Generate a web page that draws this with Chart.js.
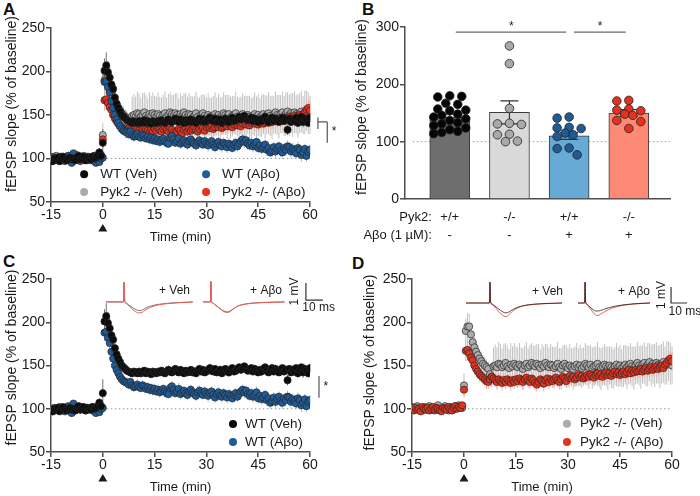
<!DOCTYPE html>
<html>
<head>
<meta charset="utf-8">
<script src="https://cdn.jsdelivr.net/npm/chart.js@4.4.1/dist/chart.umd.min.js"></script>
<style>
  body { margin: 0; background: #fff; width: 700px; height: 496px; position: relative; overflow: hidden; }
  canvas { position: absolute; }
  .lbl { position: absolute; font: bold 17px 'Liberation Sans', Arial, sans-serif; line-height: 1; color: #111; }
</style>
</head>
<body>
<div class="lbl" style="left:3px;top:1px">A</div>
<div class="lbl" style="left:362px;top:1px">B</div>
<div class="lbl" style="left:3px;top:253px">C</div>
<div class="lbl" style="left:352px;top:255px">D</div>
<canvas id="cA" width="350" height="246" style="left:0;top:0"></canvas>
<canvas id="cB" width="350" height="246" style="left:350px;top:0"></canvas>
<canvas id="cC" width="350" height="246" style="left:0;top:250px"></canvas>
<canvas id="cD" width="350" height="246" style="left:350px;top:250px"></canvas>
<script>
// ---- time course data, one point every 30 s from -15 to 60 min ----
const time = Array.from({length: 151}, (_, i) => -15 + i * 0.5);
const xTicks = [-15, 0, 15, 30, 45, 60];
const yTicks = [50, 100, 150, 200, 250];

const wtVeh = [98,97,100,99,101,97,100,102,99,98,100,101,99,100,98,101,103,99,100,102,98,101,100,99,102,100,101,103,107,103,
  118,
  201,207,199,193,185,180,170,163,158,154,
  150,148,146,144,143,142,141,143,142,141,
  143,141,142,144,141,143,142,140,143,142,
  141,143,142,144,142,141,143,145,143,142,
  144,146,143,142,145,143,141,144,142,143,
  145,142,143,141,144,146,143,145,142,143,
  145,147,144,143,146,142,143,145,141,143,
  146,144,142,145,147,143,144,146,148,145,
  147,149,146,144,145,147,143,146,144,142,
  145,143,146,148,144,142,145,147,143,146,
  144,142,145,147,143,145,133,146,142,145,
  143,147,141,145,148,142,146,144,141,147];
const wtVehSem = [3,2,3,2,3,2,3,3,2,3,2,3,2,3,3,2,3,2,3,2,3,3,2,3,2,3,3,4,5,4,
  16,
  14,15,13,12,10,9,8,7,6,6,
  5,5,5,4,4,4,4,4,4,4,
  4,4,3,4,4,3,4,4,3,4,
  4,3,4,4,3,4,4,5,4,4,
  4,4,3,4,4,5,4,4,3,4,
  4,4,5,4,4,3,4,4,4,5,
  4,5,4,4,3,4,4,5,4,4,
  4,4,5,4,4,4,5,4,4,4,
  5,4,4,4,5,4,4,5,4,4,
  4,5,4,4,5,4,4,5,4,5,
  5,4,5,4,4,5,6,5,4,5,
  5,4,5,5,4,6,5,4,5,5];

const wtAbo = [99,97,101,100,98,102,99,100,97,101,103,99,95,106,98,101,100,99,102,100,98,101,99,100,102,97,95,99,96,100,
  101,
  188,189,182,176,166,158,150,145,141,137,
  134,132,131,130,128,131,127,125,126,128,
  125,124,127,126,123,125,122,124,121,123,
  120,122,119,121,123,120,118,117,124,126,
  122,118,120,123,117,119,121,118,116,120,
  122,119,117,115,119,121,118,116,120,117,
  115,118,120,116,113,117,119,115,114,118,
  116,113,117,115,112,116,118,114,117,120,
  122,119,121,117,115,118,114,116,119,112,
  115,111,113,116,110,112,107,109,113,108,
  111,114,109,107,112,110,114,113,108,111,
  109,106,112,110,104,107,111,103,108,110];
const wtAboSem = [3,3,2,3,3,2,3,3,4,3,2,3,4,3,2,3,3,2,3,3,2,3,3,2,3,4,3,3,4,3,
  5,
  10,11,10,9,9,8,8,7,7,6,
  6,6,5,6,6,5,6,6,5,6,
  6,5,6,6,5,6,6,5,6,6,
  5,6,6,5,6,7,6,5,6,6,
  6,5,6,7,6,6,5,6,6,7,
  6,6,5,6,7,6,6,5,6,6,
  7,6,6,5,6,7,6,6,7,6,
  6,7,6,6,5,7,6,6,7,6,
  6,7,6,7,6,6,7,6,7,6,
  7,6,7,6,7,6,7,7,6,7,
  7,6,7,7,6,7,7,6,7,7,
  7,6,7,7,8,7,6,7,7,6];

const pykAbo = [100,98,101,99,100,97,102,100,99,101,98,100,102,99,101,100,98,97,101,100,99,102,100,98,101,103,100,102,101,104,
  122,
  167,168,164,159,156,150,146,143,140,138,
  136,134,132,131,134,137,135,133,131,134,
  132,130,133,131,134,132,130,133,131,134,
  132,135,133,131,134,136,133,131,135,133,
  130,128,131,134,132,129,133,135,131,134,
  132,134,136,133,131,134,137,135,132,136,
  138,135,137,134,136,139,136,138,135,137,
  139,137,140,138,136,139,141,138,140,137,
  140,142,139,141,138,141,143,140,142,139,
  141,143,140,142,145,141,144,142,145,143,
  144,146,143,145,147,144,146,148,145,147,
  149,146,148,150,147,151,153,156,158,155];
const pykAboSem = [3,2,3,3,2,3,2,3,3,2,3,3,2,3,3,2,3,2,3,3,2,3,3,2,3,3,4,3,3,4,
  8,
  12,12,11,11,10,10,9,9,9,8,
  8,8,9,8,8,9,8,8,9,8,
  8,9,8,8,9,8,9,8,8,9,
  8,9,8,9,8,8,9,8,9,8,
  9,8,8,9,8,9,8,8,9,8,
  8,9,8,8,9,8,8,9,8,8,
  9,8,8,9,8,8,9,8,8,9,
  8,8,9,8,8,9,8,8,9,8,
  8,9,8,8,9,8,8,9,8,8,
  8,8,9,8,8,9,8,8,8,9,
  8,8,9,8,8,8,9,8,8,8,
  8,9,8,8,8,9,8,8,9,10];

const pykVeh = [102,101,100,103,99,101,98,102,100,99,103,101,100,98,102,104,100,99,101,103,100,98,102,101,99,103,101,104,102,101,
  127,
  190,195,195,186,177,171,166,162,158,155,
  152,150,148,146,140,137,149,150,148,152,
  151,148,150,153,149,147,151,149,152,150,
  148,151,149,146,150,152,148,150,153,151,
  149,152,150,147,151,149,153,150,148,151,
  150,147,149,152,148,146,150,152,149,147,
  150,148,146,149,151,148,150,147,149,152,
  150,148,151,147,149,150,152,148,146,149,
  151,149,147,150,148,146,149,151,148,150,
  147,149,151,148,150,152,149,147,150,153,
  150,148,151,153,149,151,154,150,152,150,
  153,151,149,152,154,150,153,155,152,150];
const pykVehSem = [3,3,4,3,3,4,3,3,4,3,3,4,3,3,4,3,3,4,3,3,4,3,3,4,3,4,4,3,4,4,
  14,
  14,16,15,14,13,12,12,11,10,10,
  10,10,9,9,10,12,22,24,23,25,
  24,22,25,23,24,22,25,23,24,22,
  23,25,22,24,23,25,22,24,23,22,
  24,23,25,22,24,23,22,25,23,24,
  22,24,23,25,22,24,23,22,24,23,
  25,22,24,23,25,22,24,23,22,24,
  23,25,22,24,23,22,25,23,24,22,
  24,23,25,22,24,23,22,25,23,24,
  22,24,23,25,22,24,23,25,22,24,
  23,25,22,24,23,25,22,24,23,25,
  24,22,25,23,24,22,25,23,24,22];

// ---- sample fEPSP traces (ms, mV): base = before, post = 60 min ----
const cVehT = [0,10.2,10.6,11.0,11.6,13,15,17,19,20.5,22,24,27,31,36,42,51];
const cVehBase = [0,0,1.15,0.05,-0.05,-0.15,-0.3,-0.42,-0.5,-0.5,-0.44,-0.33,-0.22,-0.14,-0.08,-0.04,0];
const cVehPost = [0,0,1.15,0.05,-0.06,-0.18,-0.38,-0.55,-0.64,-0.64,-0.56,-0.42,-0.28,-0.17,-0.1,-0.05,0];
const cAboT = [0,4.4,4.7,5.0,5.6,7,9,11,13,14.7,16.5,18.5,21,25,30,38,48];
const cAboBase = [0,0,1.2,0.05,-0.05,-0.15,-0.3,-0.45,-0.56,-0.58,-0.5,-0.36,-0.22,-0.12,-0.06,-0.02,0];
const cAboPost = [0,0,1.2,0.05,-0.05,-0.16,-0.32,-0.48,-0.6,-0.62,-0.53,-0.38,-0.23,-0.13,-0.07,-0.03,0];
const dVehT = [0,14.6,15,15.4,16,17.5,19.5,21.5,23.5,25,27,29,32,36,42,50,60];
const dVehBase = [0,0,1.3,0.05,-0.05,-0.15,-0.3,-0.45,-0.58,-0.62,-0.55,-0.42,-0.28,-0.16,-0.08,-0.03,0];
const dVehPost = [0,0,1.3,0.05,-0.06,-0.2,-0.42,-0.65,-0.8,-0.85,-0.72,-0.52,-0.32,-0.18,-0.09,-0.04,0];
const dAboT = [0,4.1,4.4,4.8,5.3,6.5,8,9.5,11,12.3,14,16,19,23,28,35,45];
const dAboBase = [0,0,1.3,0.05,-0.05,-0.15,-0.3,-0.42,-0.5,-0.5,-0.47,-0.4,-0.3,-0.2,-0.12,-0.05,0];
const dAboPost = [0,0,1.3,0.05,-0.06,-0.2,-0.4,-0.6,-0.75,-0.78,-0.7,-0.58,-0.42,-0.27,-0.15,-0.06,0];

// ---- panel B: LTP magnitude per slice ----
const bPyk2 = ['+/+', '-/-', '+/+', '-/-'];
const bAbo = ['-', '-', '+', '+'];
const bTicks = [0, 100, 200, 300];
const bMean = [143, 151, 110, 150];
const bSem = [5, 20, 6, 6];
const bWtVeh = [180,178,179,167,165,157,155,154,148,146,143,140,137,133,131,128,124,121,118,116,114];
const bPykVeh = [267,236,158,132,130,131,113,112,101,100];
const bWtAbo = [143,141,125,124,123,115,112,109,89,88,77];
const bPykAbo = [172,171,157,155,154,148,146,137,135,123];

const FONT = "'Liberation Sans', Arial, Helvetica, sans-serif";
const AX = '#4d4d4d';
const YTITLE = 'fEPSP slope (% of baseline)';
Chart.defaults.font.family = FONT;
Chart.defaults.color = '#1a1a1a';

const S = {
  wtVeh: {label: 'WT (Veh)', data: wtVeh, sem: wtVehSem, fill: '#0b0b0b', err: '#707070'},
  wtAbo: {label: 'WT (Aβo)', data: wtAbo, sem: wtAboSem, fill: '#1f5b97', err: '#92c2ea'},
  pykAbo: {label: 'Pyk2 -/- (Aβo)', data: pykAbo, sem: pykAboSem, fill: '#e4321e', err: '#f4aaa0'},
  pykVeh: {label: 'Pyk2 -/- (Veh)', data: pykVeh, sem: pykVehSem, fill: '#ababab', err: '#c2c2c2'}
};

function seriesDs(s) {
  return {
    type: 'scatter', label: s.label,
    data: s.data.map((v, i) => ({x: time[i], y: v})),
    sem: s.sem, errColor: s.err,
    pointRadius: 3.6, pointBackgroundColor: s.fill,
    pointBorderColor: '#262626', pointBorderWidth: 0.7,
    xAxisID: 'x', yAxisID: 'y'
  };
}

function traceDs(t, v, off, color, w) {
  return {
    type: 'line', showLine: true, data: t.map((ms, i) => ({x: ms + off, y: v[i]})),
    borderColor: color, borderWidth: w, pointRadius: 0,
    cubicInterpolationMode: 'monotone', xAxisID: 'tx', yAxisID: 'ty'
  };
}

// rotated y title, drawn by hand so it can sit a little off-centre like the original
function yTitle(shift) {
  return {
    id: 'ytitle',
    afterDraw(chart) {
      const {ctx} = chart, y = chart.scales.y;
      ctx.save();
      ctx.font = '14px ' + FONT;
      ctx.fillStyle = '#1a1a1a';
      ctx.textAlign = 'center';
      ctx.textBaseline = 'middle';
      ctx.translate(y.left + 12.4, (y.top + y.bottom) / 2 + shift);
      ctx.rotate(-Math.PI / 2);
      ctx.fillText(YTITLE, 0, 0);
      ctx.restore();
    }
  };
}

// vertical SEM whiskers under the points
const errPlugin = {
  id: 'errbars',
  beforeDatasetsDraw(chart) {
    const ctx = chart.ctx;
    const metas = chart.getSortedVisibleDatasetMetas();
    for (let i = metas.length - 1; i >= 0; i--) {
      const ds = chart.data.datasets[metas[i].index];
      if (!ds.sem) continue;
      const xs = chart.scales[metas[i].xAxisID], ys = chart.scales[metas[i].yAxisID];
      ctx.save();
      ctx.strokeStyle = ds.errColor;
      ctx.lineWidth = 1;
      ctx.beginPath();
      ds.data.forEach((p, j) => {
        const px = xs.getPixelForValue(p.x);
        ctx.moveTo(px, ys.getPixelForValue(p.y - ds.sem[j]));
        ctx.lineTo(px, ys.getPixelForValue(p.y + ds.sem[j]));
      });
      ctx.stroke();
      ctx.restore();
    }
  }
};

function timeAnno(o) {
  return {
    id: 'anno',
    beforeDatasetsDraw(chart) {
      const {ctx, scales: {x, y}} = chart;
      ctx.save();
      ctx.strokeStyle = '#999';
      ctx.lineWidth = 1;
      ctx.setLineDash([1.5, 2.5]);
      ctx.beginPath();
      ctx.moveTo(x.getPixelForValue(0), y.getPixelForValue(100));
      ctx.lineTo(x.getPixelForValue(60), y.getPixelForValue(100));
      ctx.stroke();
      ctx.restore();
    },
    afterDraw(chart) {
      const {ctx, scales: {x, y}} = chart;
      ctx.save();
      // tetanus marker
      const ax = x.getPixelForValue(0), ay = x.top + 26;
      ctx.fillStyle = '#1a1a1a';
      ctx.beginPath();
      ctx.moveTo(ax, ay - 4); ctx.lineTo(ax + 4.5, ay + 3.5); ctx.lineTo(ax - 4.5, ay + 3.5);
      ctx.closePath(); ctx.fill();
      // legend
      ctx.font = '13.5px ' + FONT;
      ctx.textBaseline = 'middle';
      ctx.textAlign = 'left';
      o.legend.forEach(([s, lx, ly]) => {
        const px = x.getPixelForValue(lx), py = y.getPixelForValue(ly);
        ctx.fillStyle = s.fill;
        ctx.beginPath(); ctx.arc(px, py, 4, 0, Math.PI * 2); ctx.fill();
        ctx.fillStyle = '#1a1a1a';
        ctx.fillText(s.label, px + o.gap, py);
      });
      // significance bracket
      ctx.strokeStyle = '#555';
      ctx.lineWidth = 1.2;
      ctx.beginPath();
      o.sig.lines.forEach(([x1, y1, x2, y2]) => {
        ctx.moveTo(x.getPixelForValue(x1), y.getPixelForValue(y1));
        ctx.lineTo(x.getPixelForValue(x2), y.getPixelForValue(y2));
      });
      ctx.stroke();
      if (o.sig.star) {
        ctx.font = '12px ' + FONT;
        ctx.fillStyle = '#1a1a1a';
        ctx.textAlign = 'center';
        ctx.fillText('*', x.getPixelForValue(o.sig.star[0]), y.getPixelForValue(o.sig.star[1]));
      }
      // trace labels and scale bar
      if (o.tr) {
        const tx = chart.scales.tx, ty = chart.scales.ty, t = o.tr;
        ctx.font = '12px ' + FONT;
        ctx.fillStyle = '#1a1a1a';
        ctx.textAlign = 'right';
        t.labels.forEach(([txt, ms, mv]) => ctx.fillText(txt, tx.getPixelForValue(ms), ty.getPixelForValue(mv)));
        const bx = tx.getPixelForValue(t.bar[0]), by = ty.getPixelForValue(t.bar[1]);
        ctx.strokeStyle = '#333';
        ctx.lineWidth = 1.2;
        ctx.beginPath();
        ctx.moveTo(bx, ty.getPixelForValue(t.bar[1] + 1));
        ctx.lineTo(bx, by);
        ctx.lineTo(tx.getPixelForValue(t.bar[0] + 10), by);
        ctx.stroke();
        ctx.textAlign = 'center';
        ctx.fillText('10 ms', tx.getPixelForValue(t.msLbl[0]), ty.getPixelForValue(t.msLbl[1]));
        ctx.translate(tx.getPixelForValue(t.mvLbl[0]), ty.getPixelForValue(t.mvLbl[1]));
        ctx.rotate(-Math.PI / 2);
        ctx.fillText('1 mV', 0, 0);
      }
      ctx.restore();
    }
  };
}

function timeChart(id, sets, o) {
  const datasets = sets.map(seriesDs);
  const scales = {
    x: {
      type: 'linear', min: -15, max: 60,
      afterBuildTicks: s => { s.ticks = xTicks.map(v => ({value: v})); },
      grid: {drawOnChartArea: false, tickLength: 5, color: AX, lineWidth: 1.5},
      border: {color: AX, width: 1.5},
      ticks: {font: {size: 14}, padding: 0, maxRotation: 0, callback: v => String(v)},
      title: {display: true, text: 'Time (min)', font: {size: 13}, padding: {top: 0, bottom: 1}},
      afterFit: s => { s.height = 44; }
    },
    y: {
      type: 'linear', min: 50, max: 250,
      afterBuildTicks: s => { s.ticks = yTicks.map(v => ({value: v})); },
      grid: {drawOnChartArea: false, tickLength: 5, color: AX, lineWidth: 1.5},
      border: {color: AX, width: 1.5},
      ticks: {font: {size: 14}, padding: 1},
      afterFit: s => { s.width = o.yWidth; }
    }
  };
  if (o.tr) {
    const t = o.tr;
    t.traces.forEach(([tt, base, post, off]) => {
      // lower index is painted on top
      if (t.redOnTop) {
        datasets.push(traceDs(tt, post, off, '#ec5a52', 1));
        datasets.push(traceDs(tt, base, off, '#444', 0.7));
      } else {
        datasets.push(traceDs(tt, base, off, '#222', 0.8));
        datasets.push(traceDs(tt, post, off, '#ea4a42', 0.9));
      }
    });
    scales.tx = {type: 'linear', display: false, min: 0, max: t.msRange};
    scales.ty = {type: 'linear', display: false, min: t.mvMin, max: t.mvMax};
  }
  return new Chart(document.getElementById(id), {
    type: 'scatter',
    data: {datasets},
    options: {
      responsive: false, animation: false, events: [],
      layout: {padding: o.pad},
      plugins: {legend: {display: false}, tooltip: {enabled: false}},
      scales
    },
    plugins: [errPlugin, timeAnno(o), yTitle(o.titleShift)]
  });
}

// A: all four groups
timeChart('cA', [S.wtVeh, S.wtAbo, S.pykAbo, S.pykVeh], {
  pad: {left: 0, right: 40, top: 28, bottom: 0}, yWidth: 51, gap: 16, titleShift: -11,
  legend: [[S.wtVeh, -5.4, 82], [S.pykVeh, -5.4, 61.4], [S.wtAbo, 29.9, 82], [S.pykAbo, 29.9, 61.4]],
  sig: {lines: [[62.3, 147, 62.3, 134], [62.3, 142, 65, 142], [65, 142, 65, 118]], star: [67, 131]}
});

// C: wild type
timeChart('cC', [S.wtVeh, S.wtAbo], {
  pad: {left: 0, right: 40, top: 29, bottom: 0}, yWidth: 51, gap: 12, titleShift: -8,
  legend: [[S.wtVeh, 37.7, 82.4], [S.wtAbo, 37.7, 61.6]],
  sig: {lines: [[62.6, 138, 62.6, 112.7]], star: [64.6, 125]},
  tr: {
    msRange: 152.4, mvMin: -8.83, mvMax: 1.35, redOnTop: true,
    traces: [[cVehT, cVehBase, cVehPost, 32.4], [cAboT, cAboBase, cAboPost, 89.4]],
    labels: [['+ Veh', 81.8, 0.64], ['+ Aβo', 135.9, 0.64]],
    bar: [150, 0.11], msLbl: [157.5, -0.36], mvLbl: [143.5, 0.61]
  }
});

// D: Pyk2 knockout
timeChart('cD', [S.pykAbo, S.pykVeh], {
  pad: {left: 8, right: 28, top: 29, bottom: 0}, yWidth: 54, gap: 13, titleShift: -3,
  legend: [[S.pykVeh, 29.7, 82.8], [S.pykAbo, 29.7, 61.6]],
  sig: {lines: [], star: null},
  tr: {
    msRange: 162.5, mvMin: -9.31, mvMax: 1.5, redOnTop: false,
    traces: [[dVehT, dVehBase, dVehPost, 33.75], [dAboT, dAboBase, dAboPost, 103.75]],
    labels: [['+ Veh', 94.4, 0.69], ['+ Aβo', 148.75, 0.69]],
    bar: [161.9, 0.0], msLbl: [170.6, -0.56], mvLbl: [156.25, 0.5]
  }
});

// B: bar + scatter summary
const bGroups = [
  {pts: bWtVeh, fill: '#050505', bar: '#6e6e6e'},
  {pts: bPykVeh, fill: '#a9a9a9', bar: '#d9d9d9'},
  {pts: bWtAbo, fill: '#1f5b97', bar: '#67aad6'},
  {pts: bPykAbo, fill: '#e4321e', bar: '#fe8a76'}
];

const bAnno = {
  id: 'banno',
  beforeDatasetsDraw(chart) {
    const {ctx, scales: {x, y}} = chart;
    ctx.save();
    ctx.strokeStyle = '#999';
    ctx.lineWidth = 1;
    ctx.setLineDash([1.5, 2.5]);
    ctx.beginPath();
    ctx.moveTo(x.getPixelForValue(-0.62), y.getPixelForValue(100));
    ctx.lineTo(x.getPixelForValue(3.69), y.getPixelForValue(100));
    ctx.stroke();
    ctx.restore();
  },
  afterDatasetDraw(chart, args) {
    const ds = chart.data.datasets[args.index];
    if (!ds.barSem) return;
    const {ctx, scales: {x, y}} = chart;
    ctx.save();
    ctx.strokeStyle = '#333';
    ctx.lineWidth = 1.2;
    ctx.beginPath();
    ds.data.forEach((p, i) => {
      const px = x.getPixelForValue(p.x);
      const top = y.getPixelForValue(p.y + ds.barSem[i]), bot = y.getPixelForValue(p.y - ds.barSem[i]);
      ctx.moveTo(px, top); ctx.lineTo(px, bot);
      ctx.moveTo(px - 9, top); ctx.lineTo(px + 9, top);
      ctx.moveTo(px - 9, bot); ctx.lineTo(px + 9, bot);
    });
    ctx.stroke();
    ctx.restore();
  },
  afterDraw(chart) {
    const {ctx, scales: {x, y}} = chart;
    ctx.save();
    ctx.strokeStyle = '#6a6a6a';
    ctx.lineWidth = 1.2;
    ctx.beginPath();
    ctx.moveTo(x.getPixelForValue(0.1), y.getPixelForValue(291));
    ctx.lineTo(x.getPixelForValue(1.95), y.getPixelForValue(291));
    ctx.moveTo(x.getPixelForValue(2.08), y.getPixelForValue(291));
    ctx.lineTo(x.getPixelForValue(2.95), y.getPixelForValue(291));
    ctx.stroke();
    ctx.fillStyle = '#1a1a1a';
    ctx.font = '12px ' + FONT;
    ctx.textAlign = 'center';
    ctx.textBaseline = 'middle';
    ctx.fillText('*', x.getPixelForValue(1.03), y.getPixelForValue(300));
    ctx.fillText('*', x.getPixelForValue(2.52), y.getPixelForValue(300));
    ctx.font = '13px ' + FONT;
    ctx.textAlign = 'right';
    const lh = 13 * 1.45;
    const row1 = x.top + 8.6 + lh / 2;
    ctx.fillText('Pyk2:', x.getPixelForValue(-0.3), row1);
    ctx.fillText('Aβo (1 µM):', x.getPixelForValue(-0.3), row1 + lh);
    ctx.restore();
  }
};

const chartB = new Chart(document.getElementById('cB'), {
  type: 'bar',
  data: {
    datasets: [
      ...bGroups.map((g, gi) => ({
        type: 'scatter', data: g.pts.map(v => ({x: gi, y: v})),
        pointRadius: 4.3, pointBackgroundColor: g.fill, pointBorderColor: '#222', pointBorderWidth: 0.8, order: 1
      })),
      {
        type: 'bar', data: bMean.map((v, i) => ({x: i, y: v})), barSem: bSem,
        backgroundColor: bGroups.map(g => g.bar), borderColor: '#3a3a3a', borderWidth: 1,
        barThickness: 40, order: 2
      }
    ]
  },
  options: {
    responsive: false, animation: false, events: [],
    layout: {padding: {left: 0, right: 30, top: 27, bottom: 0}},
    plugins: {legend: {display: false}, tooltip: {enabled: false}},
    scales: {
      x: {
        type: 'linear', min: -0.75, max: 3.69, offset: false,
        afterBuildTicks: s => { s.ticks = bPyk2.map((_, i) => ({value: i})); },
        grid: {display: false, drawTicks: false},
        border: {display: true, color: AX, width: 1.5},
        ticks: {font: {size: 13, lineHeight: 1.45}, padding: 8.6, maxRotation: 0, autoSkip: false,
          callback: v => [bPyk2[v], bAbo[v]]},
        afterFit: s => { s.height = 47; }
      },
      y: {
        type: 'linear', min: 0, max: 300,
        afterBuildTicks: s => { s.ticks = bTicks.map(v => ({value: v})); },
        grid: {drawOnChartArea: false, tickLength: 5, color: AX, lineWidth: 1.5},
        border: {color: AX, width: 1.5},
        ticks: {font: {size: 14}, padding: 1},
        afterFit: s => { s.width = 55; }
      }
    }
  },
  plugins: [bAnno, yTitle(-6)]
});

// spread overlapping dots sideways (simple beeswarm kept inside the bar) once the scales exist
(function swarm(chart) {
  const xs = chart.scales.x, ys = chart.scales.y;
  const unit = xs.getPixelForValue(1) - xs.getPixelForValue(0);
  const d = 8.2, step = 4, maxOff = 16;
  bGroups.forEach((g, gi) => {
    const placed = [];
    chart.data.datasets[gi].data = g.pts.map((v, i) => {
      const py = ys.getPixelForValue(v);
      let best = 0, bestGap = -1;
      for (let k = 0; k <= 2 * maxOff / step; k++) {
        const cand = k === 0 ? 0 : ((k + i) % 2 ? 1 : -1) * Math.ceil(k / 2) * step;
        const gap = placed.length ? Math.min(...placed.map(p => Math.hypot(p[0] - cand, p[1] - py))) : Infinity;
        if (gap >= d) { best = cand; break; }
        if (gap > bestGap) { bestGap = gap; best = cand; }
      }
      placed.push([best, py]);
      return {x: gi + best / unit, y: v};
    });
  });
  chart.update('none');
})(chartB);
</script>
</body>
</html>
